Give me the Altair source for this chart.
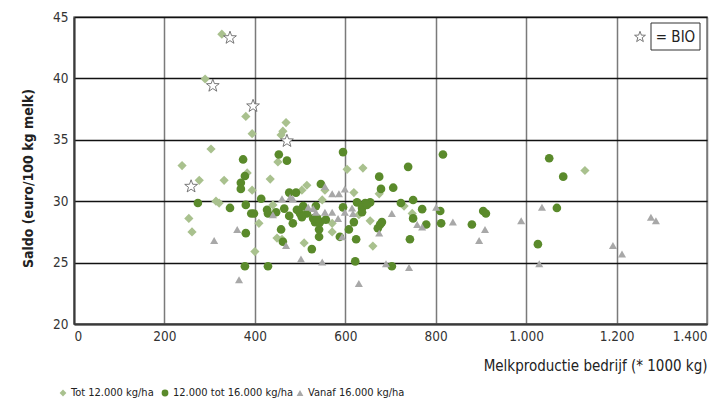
import altair as alt
import pandas as pd

# ---------------- data ----------------
cats = ["Tot 12.000 kg/ha", "12.000 tot 16.000 kg/ha", "Vanaf 16.000 kg/ha"]

tot_x = [327, 290, 380, 394, 469, 462, 458, 303, 239, 277, 332, 383, 394, 434, 451,
         604, 515, 504, 619, 639, 1130, 314, 321, 254, 261, 400, 440, 409, 449, 460,
         509, 549, 555, 571, 571, 630, 655, 661, 675, 730, 748, 496]
tot_y = [43.6, 39.95, 36.9, 35.5, 36.4, 35.7, 35.4, 34.25, 32.9, 31.7, 31.7, 32.3, 30.9, 31.8, 33.2,
         32.6, 31.3, 30.9, 30.7, 32.7, 32.5, 30.0, 29.85, 28.6, 27.5, 25.9, 29.7, 28.2, 27.0, 26.9,
         26.6, 30.1, 30.9, 28.2, 27.5, 28.9, 28.4, 26.35, 30.6, 29.6, 29.0, 29.1]

mid_x = [374, 378, 369, 369, 453, 471, 595, 546, 414, 816, 1051, 1082, 739, 675, 706,
         679, 750, 655, 274, 345, 380, 392, 398, 427, 429, 447, 465, 476, 491, 476,
         484, 458, 462, 380, 378, 429, 526, 542, 542, 533, 544, 622, 624, 608, 619,
         626, 507, 500, 515, 535, 504, 529, 538, 493, 557, 588, 595, 644, 637, 648,
         637, 672, 723, 770, 810, 681, 677, 750, 779, 812, 880, 905, 911, 1068, 1026,
         743, 703]
mid_y = [33.4, 32.05, 31.5, 31.0, 33.8, 33.3, 34.0, 31.4, 30.2, 33.8, 33.5, 32.0, 32.8, 32.0, 31.1,
         31.0, 30.1, 29.9, 29.85, 29.45, 29.7, 29.0, 29.0, 29.3, 29.0, 29.1, 29.4, 30.7, 30.7, 28.8,
         28.2, 27.7, 26.7, 27.4, 24.7, 24.7, 26.1, 27.1, 27.7, 28.3, 28.3, 25.1, 26.9, 27.7, 28.3,
         29.9, 29.6, 29.0, 29.0, 29.6, 28.7, 28.6, 28.6, 29.3, 28.5, 27.1, 29.5, 29.85, 29.45, 29.7,
         29.1, 27.8, 29.85, 29.35, 29.2, 28.3, 28.1, 28.6, 28.1, 28.2, 28.1, 29.2, 29.0, 29.45, 26.5,
         26.9, 24.7]

van_x = [361, 310, 365, 440, 460, 478, 484, 469, 502, 549, 630, 593, 599, 555, 571,
         586, 571, 584, 555, 529, 518, 535, 599, 615, 617, 703, 801, 675, 759, 770,
         838, 909, 989, 1035, 896, 1029, 1192, 1212, 1276, 1287, 690, 741]
van_y = [27.7, 26.8, 23.6, 28.9, 30.2, 30.3, 30.2, 26.4, 25.3, 25.05, 23.3, 27.1, 31.0, 31.2, 30.6,
         30.6, 29.1, 28.6, 29.1, 29.4, 29.5, 29.1, 29.1, 29.45, 29.0, 29.0, 29.5, 27.4, 28.1, 27.9,
         28.3, 27.7, 28.4, 29.5, 26.8, 24.9, 26.4, 25.7, 28.7, 28.4, 24.9, 24.6]

bio_x = [345, 307, 396, 471, 259]
bio_y = [43.3, 39.4, 37.75, 34.9, 31.2]

x_ticks = [0, 200, 400, 600, 800, 1000, 1200, 1400]
y_ticks = [20, 25, 30, 35, 40, 45]

colors = ["#a9c18e", "#5a8a2b", "#a8a8a8"]
shapes = ["diamond", "circle", "triangle-up"]
sizes = [85, 65, 85]

# 5-point star as a custom symbol path (unit square -1..1)
STAR = ("M0,-1L0.24,-0.33L0.951,-0.309L0.388,0.126L0.588,0.809L0,0.41"
        "L-0.588,0.809L-0.388,0.126L-0.951,-0.309L-0.24,-0.33Z")

# ---------------- build table ----------------
rows = []
for c, xs, ys in zip(cats, [tot_x, mid_x, van_x], [tot_y, mid_y, van_y]):
    for x, y in zip(xs, ys):
        rows.append({"x": x, "y": y, "cat": c})
df = pd.DataFrame(rows)
bio = pd.DataFrame({"x": bio_x, "y": bio_y})

FONT = "Liberation Sans Narrow, DejaVu Sans Condensed, sans-serif"
W, H = 633, 307

xscale = alt.Scale(domain=[0, 1400], nice=False, zero=False)
yscale = alt.Scale(domain=[20, 45], nice=False, zero=False)

x_axis = alt.Axis(
    values=x_ticks, grid=True, gridColor="#7a7a7a", gridWidth=1.5, ticks=False,
    domainColor="#3a3a3a", domainWidth=2,
    labelExpr="replace(format(datum.value, ','), ',', '.')",
    labelFont=FONT, labelFontSize=13.5, labelColor="#333333", labelPadding=5,
    title="Melkproductie bedrijf (* 1000 kg)", titleFont=FONT, titleFontSize=15,
    titleFontWeight="normal", titleColor="#222222",
    titleAlign="right", titleBaseline="middle", titleX=W, titleY=41,
)
y_axis = alt.Axis(
    values=y_ticks, grid=True, gridColor="#111111", gridWidth=1.5, ticks=False,
    domainColor="#3a3a3a", domainWidth=2,
    labelFont=FONT, labelFontSize=13.5, labelColor="#333333", labelPadding=6,
    title="Saldo (euro/100 kg melk)", titleFont=FONT, titleFontSize=14,
    titleFontWeight="bold", titleColor="#222222",
    titleAngle=270, titleAlign="center", titleBaseline="middle", titleX=-46, titleY=161,
)

points = alt.Chart(df).mark_point(filled=True, opacity=1, strokeWidth=0).encode(
    x=alt.X("x:Q", scale=xscale, axis=x_axis),
    y=alt.Y("y:Q", scale=yscale, axis=y_axis),
    color=alt.Color("cat:N", scale=alt.Scale(domain=cats, range=colors), legend=None),
    shape=alt.Shape("cat:N", scale=alt.Scale(domain=cats, range=shapes), legend=None),
    size=alt.Size("cat:N", scale=alt.Scale(domain=cats, range=sizes), legend=None),
)

stars = alt.Chart(bio).mark_point(shape=STAR, size=180, fill="white", fillOpacity=1,
                                  stroke="#6a6a6a", strokeWidth=0.9, opacity=1).encode(
    x=alt.X("x:Q", scale=xscale),
    y=alt.Y("y:Q", scale=yscale),
)

# ---------------- "= BIO" key (top right) ----------------
one = pd.DataFrame({"t": ["= BIO"]})
bio_star = alt.Chart(one).mark_point(shape=STAR, size=130, fill="white", fillOpacity=1,
                                     stroke="#6a6a6a", strokeWidth=0.9, opacity=1).encode(
    x=alt.value(566), y=alt.value(20))
bio_box = alt.Chart(one).mark_rect(fill="white", stroke="#333333", strokeWidth=1).encode(
    x=alt.value(577), x2=alt.value(626), y=alt.value(6), y2=alt.value(33))
bio_text = alt.Chart(one).mark_text(font=FONT, fontSize=15, color="#222222",
                                    align="center", baseline="middle").encode(
    text="t:N", x=alt.value(601.5), y=alt.value(20))

# ---------------- bottom legend ----------------
leg_sym_x = [-11, 91, 226]
leg_lab_x = [-3, 99, 234]
LEG_Y = 376
legend_layers = []
for i, c in enumerate(cats):
    d = pd.DataFrame({"t": [c]})
    legend_layers.append(
        alt.Chart(d).mark_point(filled=True, opacity=1, strokeWidth=0, shape=shapes[i],
                                color=colors[i], size=46).encode(
            x=alt.value(leg_sym_x[i]), y=alt.value(LEG_Y)))
    legend_layers.append(
        alt.Chart(d).mark_text(font=FONT, fontSize=11, color="#222222",
                               align="left", baseline="middle").encode(
            text="t:N", x=alt.value(leg_lab_x[i]), y=alt.value(LEG_Y)))

chart = alt.layer(points, stars, bio_box, bio_text, bio_star, *legend_layers).properties(
    width=W, height=H,
    autosize=alt.AutoSizeParams(type="none"),
    padding={"left": 74, "top": 17, "right": 16, "bottom": 83},
    background="white",
).configure_view(
    stroke="#7a7a7a", strokeWidth=1.5,
)

chart.save("out.html", embed_options={"renderer": "svg", "actions": False})
